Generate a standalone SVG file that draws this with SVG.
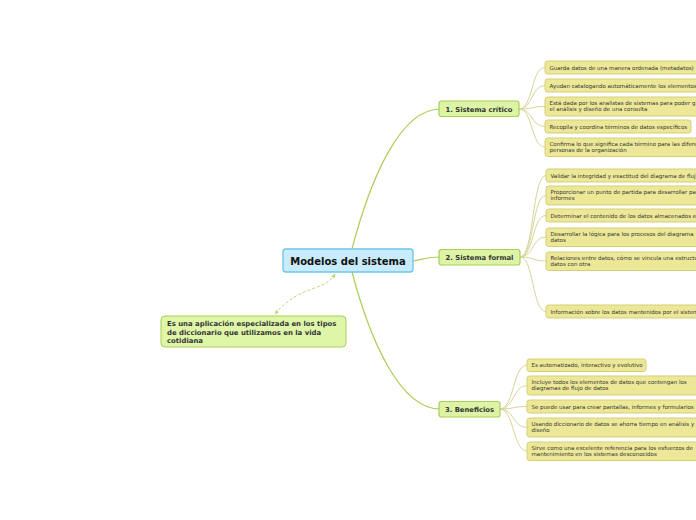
<svg xmlns="http://www.w3.org/2000/svg" width="696" height="520" viewBox="0 0 696 520">
<defs>
<style>
.leaf{fill:#ede898;stroke:#d5cf78;stroke-width:1}
.lt{font-family:"DejaVu Sans",Verdana,sans-serif;font-size:5.5px;fill:#333}
.main{fill:#ddf4a6;stroke:#a9cf55;stroke-width:1.2}
.mt{font-family:"DejaVu Sans",Verdana,sans-serif;font-size:6.8px;font-weight:bold;fill:#333}
.lc{fill:none;stroke:#d8d49a;stroke-width:1}
.mc{fill:none;stroke:#a9cf55;stroke-width:1.2}
</style>
<marker id="ah" viewBox="0 0 10 10" refX="8" refY="5" markerWidth="5" markerHeight="5" orient="auto-start-reverse">
<path d="M0,1 L9,5 L0,9 z" fill="#b8d97a"/>
</marker>
</defs>
<rect width="696" height="520" fill="#ffffff"/>
<g id="connectors">
<path class="mc" d="M352,249 C370,180 400,109 440,109"/>
<path class="mc" d="M413,261 C424,259 430,257 440,257"/>
<path class="mc" d="M352,272 C370,340 400,409 440,409"/>
<path d="M335,274 C325,292 300,284 275,314" fill="none" stroke="#b8d97a" stroke-width="1" stroke-dasharray="3,2" marker-start="url(#ah)" marker-end="url(#ah)"/>
<path class="lc" d="M519,109 C533,109 531,67.5 545,67.5"/>
<path class="lc" d="M519,109 C533,109 531,85.5 545,85.5"/>
<path class="lc" d="M519,109 C533,109 531,106.5 545,106.5"/>
<path class="lc" d="M519,109 C533,109 531,126.5 545,126.5"/>
<path class="lc" d="M519,109 C533,109 531,147 545,147"/>
<path class="lc" d="M520,257 C534,257 532,175.5 546,175.5"/>
<path class="lc" d="M520,257 C534,257 532,195.5 546,195.5"/>
<path class="lc" d="M520,257 C534,257 532,215.5 546,215.5"/>
<path class="lc" d="M520,257 C534,257 532,237 546,237"/>
<path class="lc" d="M520,257 C534,257 532,261 546,261"/>
<path class="lc" d="M520,257 C534,257 532,311.5 546,311.5"/>
<path class="lc" d="M500,409 C514,409 513,365 527,365"/>
<path class="lc" d="M500,409 C514,409 513,385.5 527,385.5"/>
<path class="lc" d="M500,409 C514,409 513,406.5 527,406.5"/>
<path class="lc" d="M500,409 C514,409 513,427.5 527,427.5"/>
<path class="lc" d="M500,409 C514,409 513,451 527,451"/>
</g>
<g id="central">
<rect x="283" y="249" width="130" height="23" rx="3" fill="#c8ecfb" stroke="#6ec3ec" stroke-width="1.3"/>
<text x="348" y="264.5" text-anchor="middle" font-family="DejaVu Sans,Verdana,sans-serif" font-size="10" font-weight="bold" fill="#111">Modelos del sistema</text>
</g>
<g id="note">
<rect x="161" y="316" width="185" height="31" rx="4" fill="#dff6a8" stroke="#a9cf55" stroke-width="1"/>
<text class="mt" style="font-size:6.9px" x="167" y="326">Es una aplicación especializada en los tipos</text>
<text class="mt" style="font-size:6.9px" x="167" y="334.5">de diccionario que utilizamos en la vida</text>
<text class="mt" style="font-size:6.9px" x="167" y="343">cotidiana</text>
</g>
<g id="n1">
<rect class="main" x="439" y="101" width="80" height="15.5" rx="2.5"/>
<text class="mt" x="479" y="111.5" text-anchor="middle">1. Sistema crítico</text>
</g>
<g id="n2">
<rect class="main" x="439" y="249.5" width="81" height="15.5" rx="2.5"/>
<text class="mt" x="479.5" y="260" text-anchor="middle">2. Sistema formal</text>
</g>
<g id="n3">
<rect class="main" x="439" y="401.5" width="61" height="15.5" rx="2.5"/>
<text class="mt" x="469.5" y="412" text-anchor="middle">3. Beneficios</text>
</g>
<g id="l1a"><rect class="leaf" x="545" y="61" width="153" height="13" rx="2.5"/><text class="lt" x="549.5" y="69.5">Guarda datos de una manera ordenada (metadatos)</text></g>
<g id="l1b"><rect class="leaf" x="545" y="79" width="160" height="13" rx="2.5"/><text class="lt" x="549.5" y="87.5">Ayudan catalogando automáticamente los elementos</text></g>
<g id="l1c"><rect class="leaf" x="545" y="97" width="160" height="19" rx="2.5"/><text class="lt" x="549.5" y="104.5">Está dada por los analistas de sistemas para poder g</text><text class="lt" x="549.5" y="111">el análisis y diseño de una consulta</text></g>
<g id="l1d"><rect class="leaf" x="545" y="120" width="146" height="13" rx="2.5"/><text class="lt" x="549.5" y="128.5">Recopila y coordina términos de datos específicos</text></g>
<g id="l1e"><rect class="leaf" x="545" y="138" width="160" height="18.5" rx="2.5"/><text class="lt" x="549.5" y="145.5">Confirma lo que significa cada término para las difere</text><text class="lt" x="549.5" y="152">personas de la organización</text></g>
<g id="l2a"><rect class="leaf" x="546" y="169" width="160" height="13" rx="2.5"/><text class="lt" x="550.5" y="177.5">Validar la integridad y exactitud del diagrama de fluj</text></g>
<g id="l2b"><rect class="leaf" x="546" y="186" width="160" height="19" rx="2.5"/><text class="lt" x="550.5" y="193.5">Proporcionar un punto de partida para desarrollar pa</text><text class="lt" x="550.5" y="200">informes</text></g>
<g id="l2c"><rect class="leaf" x="546" y="209" width="160" height="13" rx="2.5"/><text class="lt" x="550.5" y="217.5">Determinar el contenido de los datos almacenados e</text></g>
<g id="l2d"><rect class="leaf" x="546" y="228" width="160" height="18.5" rx="2.5"/><text class="lt" x="550.5" y="235.5">Desarrollar la lógica para los procesos del diagrama</text><text class="lt" x="550.5" y="242">datos</text></g>
<g id="l2e"><rect class="leaf" x="546" y="252" width="160" height="18.5" rx="2.5"/><text class="lt" x="550.5" y="259.5">Relaciones entre datos, cómo se vincula una estructu</text><text class="lt" x="550.5" y="266">datos con otra</text></g>
<g id="l2f"><rect class="leaf" x="546" y="305" width="160" height="13" rx="2.5"/><text class="lt" x="550.5" y="313.5">Información sobre los datos mantenidos por el sistem</text></g>
<g id="l3a"><rect class="leaf" x="527" y="359" width="119" height="12.5" rx="2.5"/><text class="lt" x="531.5" y="367">Es automatizado, interactivo y evolutivo</text></g>
<g id="l3b"><rect class="leaf" x="527" y="376" width="172" height="19" rx="2.5"/><text class="lt" x="531.5" y="383.5">Incluye todos los elementos de datos que contengan los</text><text class="lt" x="531.5" y="390">diagramas de flujo de datos</text></g>
<g id="l3c"><rect class="leaf" x="527" y="400" width="172" height="13" rx="2.5"/><text class="lt" x="531.5" y="408.5">Se puede usar para crear pantallas, informes y formularios</text></g>
<g id="l3d"><rect class="leaf" x="527" y="418" width="175" height="19" rx="2.5"/><text class="lt" x="531.5" y="425.5">Usando diccionario de datos se ahorra tiempo en análisis y</text><text class="lt" x="531.5" y="432">diseño</text></g>
<g id="l3e"><rect class="leaf" x="527" y="442" width="175" height="18.5" rx="2.5"/><text class="lt" x="531.5" y="449.5">Sirve como una excelente referencia para los esfuerzos de</text><text class="lt" x="531.5" y="456">mantenimiento en los sistemas desconocidos</text></g>
</svg>
